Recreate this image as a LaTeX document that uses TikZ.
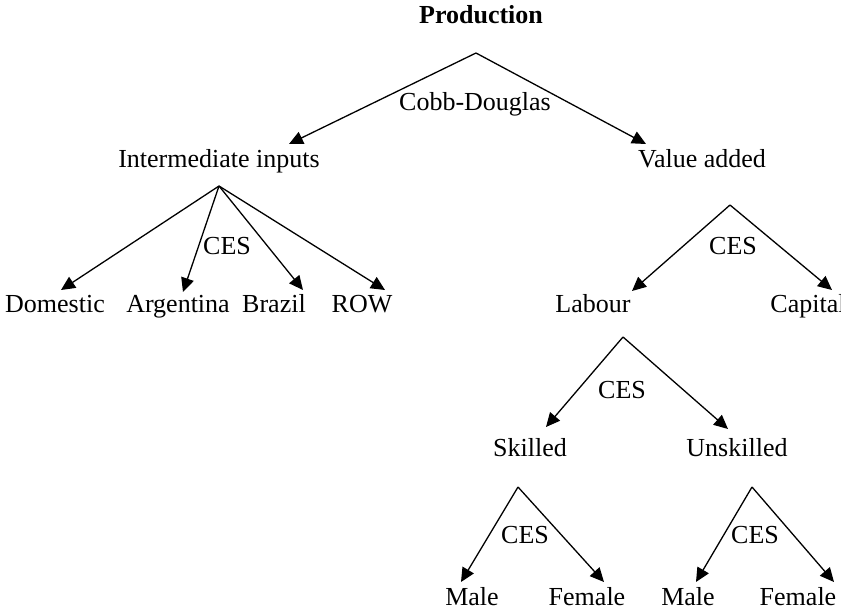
\documentclass[tikz,border=0pt]{standalone}
\usepackage{fontspec}
\setmainfont{Liberation Serif}
\usetikzlibrary{arrows.meta}
\begin{document}
\begin{tikzpicture}[x=1pt,y=-1pt,
  lbl/.style={inner sep=0pt,anchor=base,font=\fontsize{26}{28}\selectfont},
  conn/.style={line width=1.3pt,-{Triangle[length=14pt,width=13pt]}}]
\useasboundingbox (0,0) rectangle (841,608);
% texts
\node[lbl,font=\fontsize{26}{28}\selectfont\bfseries] (prod) at (481,23) {Production};
\node[lbl] (cd) at (475,110) {Cobb-Douglas};
\node[lbl] (ii) at (219,167) {Intermediate inputs};
\node[lbl] (va) at (702,167) {Value added};
\node[lbl] (dom) at (55,312) {Domestic};
\node[lbl] (arg) at (178,312) {Argentina};
\node[lbl] (bra) at (274,312) {Brazil};
\node[lbl] (row) at (362,312) {ROW};
\node[lbl] (ces1) at (227,254) {CES};
\node[lbl] (lab) at (593,312) {Labour};
\node[lbl] (cap) at (808,312) {Capital};
\node[lbl] (ces2) at (733,254) {CES};
\node[lbl] (sk) at (530,456) {Skilled};
\node[lbl] (unsk) at (737,456) {Unskilled};
\node[lbl] (ces3) at (622,398) {CES};
\node[lbl] (m1) at (472,605) {Male};
\node[lbl] (f1) at (587,605) {Female};
\node[lbl] (ces4) at (525,543) {CES};
\node[lbl] (m2) at (688,605) {Male};
\node[lbl] (f2) at (798,605) {Female};
\node[lbl] (ces5) at (755,543) {CES};
% apexes and tips
\coordinate (a0) at (476,53);
\coordinate (t0l) at (289,144);
\coordinate (t0r) at (646,144);
\coordinate (a1) at (219,186);
\coordinate (t1a) at (61,290);
\coordinate (t1b) at (183,292);
\coordinate (t1c) at (303,290);
\coordinate (t1d) at (385,290);
\coordinate (a2) at (730,205);
\coordinate (t2l) at (632,291);
\coordinate (t2r) at (832,290);
\coordinate (a3) at (623,337);
\coordinate (t3l) at (546,427);
\coordinate (t3r) at (728,429);
\coordinate (a4) at (518,487);
\coordinate (t4l) at (461,582);
\coordinate (t4r) at (604,582);
\coordinate (a5) at (752,487);
\coordinate (t5l) at (696,582);
\coordinate (t5r) at (834,582);
% connectors
\draw[conn] (a0) -- (t0l);
\draw[conn] (a0) -- (t0r);
\draw[conn] (a1) -- (t1a);
\draw[conn] (a1) -- (t1b);
\draw[conn] (a1) -- (t1c);
\draw[conn] (a1) -- (t1d);
\draw[conn] (a2) -- (t2l);
\draw[conn] (a2) -- (t2r);
\draw[conn] (a3) -- (t3l);
\draw[conn] (a3) -- (t3r);
\draw[conn] (a4) -- (t4l);
\draw[conn] (a4) -- (t4r);
\draw[conn] (a5) -- (t5l);
\draw[conn] (a5) -- (t5r);
\end{tikzpicture}
\end{document}
